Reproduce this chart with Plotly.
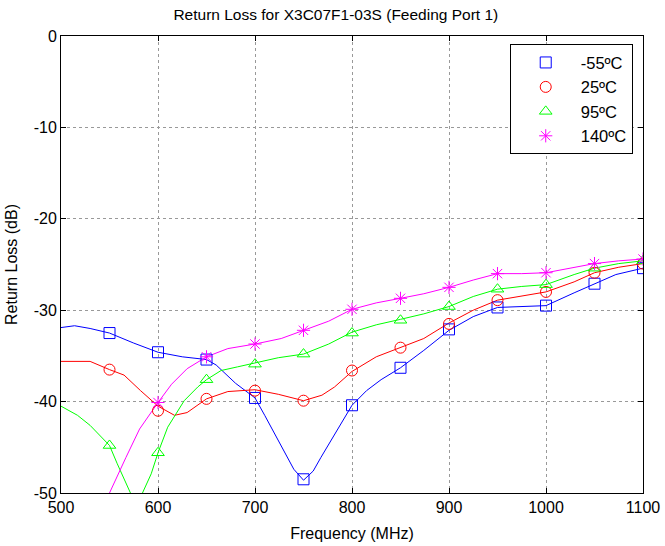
import plotly.graph_objects as go

# ---- data ----
f_m55 = [500, 514, 530, 550, 575, 600, 625, 650, 660, 670, 680, 690, 700, 710, 720, 730, 740, 750,
         760, 768, 778, 790, 800, 815, 830, 850, 874, 900, 925, 950, 975, 1000, 1029, 1050, 1072, 1100]
v_m55 = [-31.9, -31.7, -32.0, -32.5, -33.6, -34.6, -35.1, -35.4, -36.0, -37.0, -38.0, -38.8, -39.6,
         -41.5, -43.5, -45.4, -47.4, -48.6, -47.6, -46.1, -44.3, -42.3, -40.4, -38.8, -37.6, -36.3,
         -34.4, -32.2, -30.7, -29.7, -29.6, -29.5, -28.1, -27.1, -26.1, -25.4]

f_25 = [500, 530, 550, 565, 582, 600, 617, 630, 650, 672, 700, 724, 750, 769, 782, 800, 825, 850,
        874, 900, 925, 950, 978, 1000, 1029, 1050, 1075, 1100]
v_25 = [-35.6, -35.6, -36.5, -37.1, -38.8, -40.5, -41.5, -41.2, -39.7, -38.9, -38.7, -39.2, -39.9,
        -39.3, -38.4, -36.7, -35.1, -34.1, -33.1, -31.4, -30.0, -28.9, -28.4, -28.0, -26.9, -25.9,
        -25.3, -24.9]

f_95 = [500, 517, 530, 537, 550, 558, 572, 578, 584, 593, 600, 610, 627, 641, 650, 665, 682, 700,
        724, 750, 776, 800, 825, 850, 874, 900, 925, 950, 975, 1000, 1029, 1050, 1075, 1100]
v_95 = [-40.5, -41.5, -42.6, -43.4, -44.8, -46.8, -50.0, -51.5, -50.0, -47.9, -45.6, -42.8, -39.9,
        -38.4, -37.6, -36.6, -36.2, -35.8, -35.2, -34.8, -33.7, -32.4, -31.6, -31.0, -30.4, -29.6,
        -28.5, -27.7, -27.4, -27.2, -26.1, -25.4, -24.9, -24.6]

f_140 = [540, 550, 567, 581, 600, 614, 630, 650, 672, 700, 727, 750, 776, 800, 825, 850, 874, 900,
         925, 950, 975, 1000, 1029, 1050, 1075, 1100]
v_140 = [-52.0, -50.0, -46.1, -43.0, -40.1, -38.1, -36.4, -35.1, -34.2, -33.7, -33.1, -32.2, -31.2,
         -29.9, -29.2, -28.7, -28.2, -27.5, -26.7, -26.0, -26.0, -25.9, -25.3, -24.9, -24.6, -24.4]

mk_f = [550, 600, 650, 700, 750, 800, 850, 900, 950, 1000, 1050, 1100]
mk_m55 = [-32.5, -34.6, -35.4, -39.6, -48.5, -40.4, -36.3, -32.1, -29.7, -29.5, -27.1, -25.4]
mk_25 = [-36.5, -41.0, -39.7, -38.8, -39.9, -36.6, -34.1, -31.5, -28.9, -28.0, -25.9, -24.9]
mk_95 = [-44.8, -45.6, -37.6, -35.9, -34.8, -32.5, -31.1, -29.6, -27.7, -27.2, -25.4, -24.6]
mk_f140 = [600, 650, 700, 750, 800, 850, 900, 950, 1000, 1050, 1100]
mk_140 = [-40.1, -35.1, -33.7, -32.2, -29.9, -28.7, -27.5, -26.0, -25.9, -24.9, -24.4]

names = ["-55ºC", "25ºC", "95ºC", "140ºC"]
colors = ["#0000ff", "#ff0000", "#00ff00", "#ff00ff"]
symbols = ["square-open", "circle-open", "triangle-up-open", "asterisk-open"]
x_ticks = [500, 600, 700, 800, 900, 1000, 1100]
x_ticktext = ["500", "600", "700", "800", "900", "1000", "1100"]
y_ticks = [-50, -40, -30, -20, -10, 0]
y_ticktext = ["-50", "-40", "-30", "-20", "-10", "0"]

lines = [(f_m55, v_m55), (f_25, v_25), (f_95, v_95), (f_140, v_140)]
marks = [(mk_f, mk_m55), (mk_f, mk_25), (mk_f, mk_95), (mk_f140, mk_140)]

FONT = "Liberation Sans, Arial, sans-serif"
fig = go.Figure()
for i in range(4):
    fig.add_trace(go.Scatter(x=lines[i][0], y=lines[i][1], mode="lines",
                             line=dict(color=colors[i], width=1), showlegend=False,
                             hoverinfo="skip"))
for i in range(4):
    fig.add_trace(go.Scatter(x=marks[i][0], y=marks[i][1], mode="markers", name=names[i],
                             legendgroup="g%d" % i,
                             marker=dict(symbol=symbols[i], size=11, color=colors[i],
                                         line=dict(width=1, color=colors[i]))))

axis_common = dict(showline=True, linecolor="black", linewidth=1, mirror="ticks",
                   ticks="inside", ticklen=5, tickcolor="black", automargin=False,
                   showgrid=True, gridcolor="#999999", griddash="dot", gridwidth=1,
                   zeroline=False, tickfont=dict(family=FONT, size=16, color="black"))

fig.update_layout(
    width=665, height=546,
    margin=dict(l=61, r=22, t=36, b=53),
    paper_bgcolor="white", plot_bgcolor="white",
    title=dict(text="Return Loss for X3C07F1-03S (Feeding Port 1)", x=0.505, xanchor="center",
               y=0.973, yanchor="middle", font=dict(family=FONT, size=15.5, color="black")),
    xaxis=dict(range=[500, 1100], tickvals=x_ticks, ticktext=x_ticktext,
               title=dict(text="Frequency (MHz)", font=dict(family=FONT, size=16, color="black"),
                          standoff=12),
               **axis_common),
    yaxis=dict(range=[-50, 0], tickvals=y_ticks, ticktext=y_ticktext,
               title=dict(text="Return Loss (dB)", font=dict(family=FONT, size=16, color="black"),
                          standoff=12),
               **axis_common),
    legend=dict(x=0.771, y=0.982, xanchor="left", yanchor="top",
                bordercolor="black", borderwidth=1, bgcolor="white",
                font=dict(family=FONT, size=16.5, color="black"),
                tracegroupgap=0, itemwidth=60),
)

fig.write_html("out.html", config={"displayModeBar": False},
               post_script="document.body.style.margin='0px';")
